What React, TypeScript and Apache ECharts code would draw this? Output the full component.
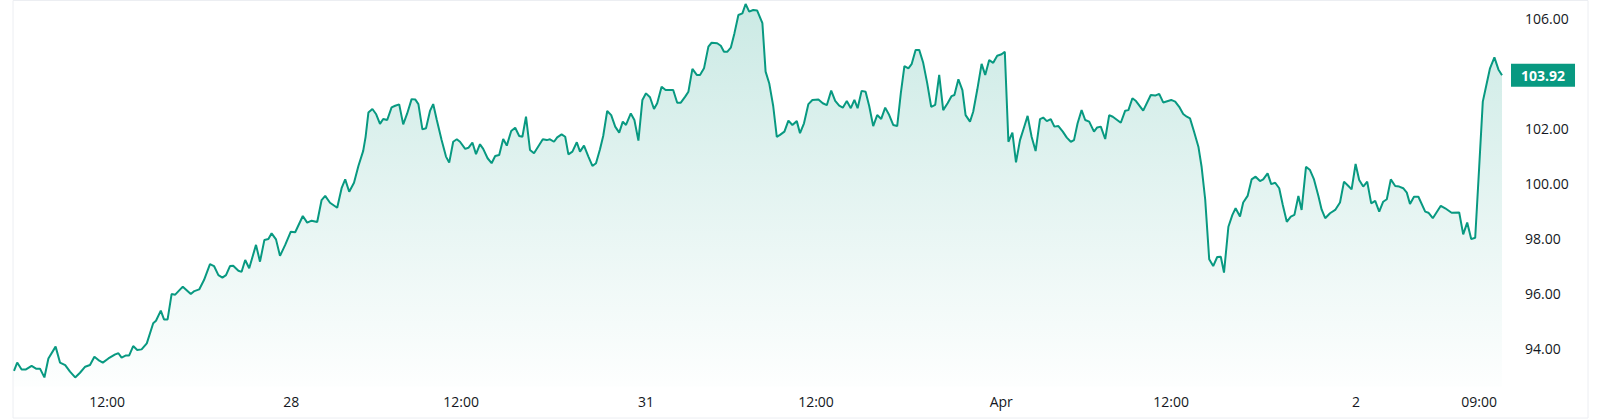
import { useEffect, useRef } from 'react';
import * as echarts from 'echarts';

// bar position (one bar ~ 4px of the time scale) and close price
const positions = [
  0, 0.8, 1.9, 3, 4.4, 5.5, 6.5, 7.6, 8.6, 10.4,
  11.5, 12.8, 14, 15.3, 16.5, 17.8, 19, 20.1, 21.1, 22.2,
  23.6, 25.3, 26.1, 26.9, 28, 28.8, 29.8, 30.8, 31.9, 33.2,
  34.8, 35.5, 36.7, 37.5, 38.4, 39.4, 40.3, 42.2, 44.2, 45.1,
  46.3, 47.5, 49, 50, 51.1, 52.1, 53, 54, 54.8, 56.1,
  56.9, 57.8, 58.8, 60.5, 61.5, 62.6, 63.6, 64.4, 65.5, 66.5,
  67.8, 69.2, 70.3, 72.2, 73.3, 74.4, 75.8, 76.9, 77.8, 79,
  80.8, 81.9, 82.8, 83.8, 85, 86.1, 87.3, 87.9, 88.6, 89.6,
  90.5, 91.5, 92.3, 93.3, 94.4, 95.3, 96.3, 97.3, 98.3, 99.4,
  100.3, 101.1, 102.1, 103, 104, 104.8, 105.7, 106.9, 108, 108.8,
  109.8, 110.7, 111.5, 112.8, 113.6, 114.6, 115.5, 116.5, 117.3, 118.4,
  119.4, 120.3, 121.3, 122.3, 123.2, 124.3, 125.3, 126.3, 127.1, 128,
  129, 130, 132.2, 133.2, 134, 135, 135.8, 136.9, 137.8, 138.6,
  139.6, 140.7, 141.5, 142.5, 143.6, 144.6, 145.5, 146.5, 147.3, 148.3,
  149.3, 150.3, 151.3, 152.2, 153, 154.2, 155.1, 156.1, 157.1, 158,
  159, 160, 160.8, 161.9, 162.9, 164, 164.8, 165.8, 166.7, 167.8,
  168.6, 169.6, 170.7, 171.5, 172.5, 173.6, 174.4, 175.8, 176.7, 177.5,
  178.3, 179.2, 180.1, 181.1, 182.1, 182.9, 183.8, 184.8, 185.8, 187.1,
  187.9, 188.8, 189.8, 190.7, 191.5, 192.6, 193.6, 194.6, 195.7, 196.5,
  197.5, 198.6, 199.6, 201.1, 202.2, 203.2, 204.3, 205.3, 206.3, 207.2,
  208.2, 209.2, 210.1, 210.9, 211.9, 212.9, 213.8, 214.8, 215.8, 216.8,
  217.8, 218.8, 219.8, 220.8, 221.7, 222.6, 223.6, 224.4, 225.4, 226.3,
  227.3, 228.3, 229.3, 230.3, 231.3, 232.3, 233.4, 234.4, 235.1, 236.1,
  237.1, 237.9, 239, 239.8, 240.8, 241.9, 242.8, 243.8, 244.8, 245.8,
  246.9, 247.7, 248.6, 249.6, 250.5, 251.5, 252.5, 253.4, 254.4, 255.4,
  256.5, 257.3, 258.2, 259.2, 260.1, 261.1, 262.2, 263.2, 264.2, 265,
  265.9, 266.9, 267.8, 268.8, 270, 270.8, 271.7, 272.8, 273.8, 274.7,
  276.7, 277.8, 278.6, 279.6, 280.5, 282.3, 284.2, 285.3, 286.3, 287.3,
  289.3, 290.3, 291.3, 292.3, 293.2, 294, 295, 296.1, 296.9, 297.8,
  298.8, 299.8, 300.8, 301.7, 302.5, 303.6, 304.6, 305.4, 306.5, 307.3,
  308.4, 309.4, 310.4, 311.5, 312.3, 313.4, 314.3, 315.3, 316.3, 317.2,
  318.2, 319.2, 320.1, 321.1, 321.9, 323, 324, 325, 326.1, 326.9,
  327.8, 329, 330.3, 331.5, 332.5, 333.6, 334.4, 335.4, 336.3, 337.3,
  338.3, 339.3, 340.3, 341.3, 342.3, 343.2, 344.2, 345.3, 346.3, 347.3,
  348.2, 349, 350, 351.1, 352.8, 353.6, 354.7, 356.7, 357.8, 359.4,
  361.3, 362.3, 363.3, 364.3, 365.3, 366.3, 367.2, 368, 369, 370.1,
  371.1, 372,
];

const prices = [
  93.17, 93.47, 93.22, 93.22, 93.35, 93.25, 93.25, 92.93, 93.62, 94.05,
  93.47, 93.38, 93.14, 92.93, 93.10, 93.32, 93.38, 93.68, 93.56, 93.47,
  93.62, 93.77, 93.81, 93.65, 93.73, 93.73, 94.07, 93.93, 93.95, 94.17,
  94.90, 94.99, 95.36, 95.04, 95.04, 95.96, 95.94, 96.23, 95.96, 96.07,
  96.13, 96.47, 97.05, 96.98, 96.65, 96.56, 96.65, 96.98, 96.99, 96.81,
  96.77, 97.20, 96.90, 97.75, 97.14, 97.93, 97.96, 98.17, 97.95, 97.35,
  97.75, 98.23, 98.21, 98.80, 98.56, 98.63, 98.58, 99.38, 99.53, 99.28,
  99.10, 99.81, 100.13, 99.68, 100.01, 100.62, 101.17, 101.68, 102.56, 102.69,
  102.51, 102.15, 102.33, 102.29, 102.75, 102.81, 102.86, 102.13, 102.53, 103.05,
  103.04, 102.87, 101.95, 101.99, 102.62, 102.87, 102.29, 101.56, 100.96, 100.74,
  101.50, 101.59, 101.50, 101.24, 101.28, 101.47, 101.05, 101.41, 101.24, 100.90,
  100.72, 100.98, 101.02, 101.60, 101.36, 101.89, 102.01, 101.71, 101.68, 102.41,
  101.20, 101.08, 101.59, 101.56, 101.59, 101.50, 101.66, 101.77, 101.68, 101.04,
  101.14, 101.48, 101.14, 101.36, 100.96, 100.62, 100.72, 101.23, 101.71, 102.62,
  102.47, 102.05, 101.83, 102.23, 102.11, 102.53, 102.29, 101.54, 103.02, 103.26,
  103.12, 102.69, 102.90, 103.50, 103.38, 103.38, 103.38, 102.92, 102.92, 103.14,
  103.32, 104.15, 103.93, 103.93, 104.17, 104.96, 105.10, 105.08, 104.99, 104.77,
  104.77, 104.92, 105.44, 106.11, 106.17, 106.51, 106.23, 106.29, 106.27, 105.81,
  104.05, 103.63, 102.80, 101.68, 101.75, 101.87, 102.27, 102.11, 102.25, 101.81,
  102.17, 102.87, 103.02, 103.04, 102.90, 102.83, 103.36, 102.99, 102.81, 102.74,
  102.98, 102.72, 103.02, 102.72, 103.35, 103.32, 102.80, 102.07, 102.47, 102.33,
  102.74, 102.47, 102.11, 102.07, 103.26, 104.25, 104.17, 104.32, 104.84, 104.84,
  104.37, 103.63, 102.77, 102.84, 103.93, 102.65, 102.90, 103.16, 103.20, 103.77,
  103.38, 102.47, 102.23, 102.59, 103.38, 104.33, 103.93, 104.47, 104.37, 104.63,
  104.68, 104.77, 101.50, 101.83, 100.75, 101.56, 102.02, 102.44, 101.68, 101.16,
  102.32, 102.38, 102.25, 102.32, 102.05, 102.07, 101.87, 101.65, 101.50, 101.56,
  102.17, 102.65, 102.29, 102.23, 101.87, 102.02, 102.05, 101.60, 102.47, 102.41,
  102.19, 102.63, 102.65, 103.08, 102.98, 102.63, 103.20, 103.18, 103.24, 102.93,
  103.02, 102.96, 102.77, 102.51, 102.41, 102.35, 101.87, 101.32, 100.59, 99.40,
  97.23, 96.98, 97.31, 97.32, 96.74, 98.41, 98.84, 99.08, 98.78, 99.29,
  99.53, 100.13, 100.23, 100.07, 100.13, 100.35, 99.96, 100.01, 99.81, 99.20,
  98.59, 98.78, 98.84, 99.53, 99.02, 100.59, 100.47, 100.13, 99.53, 99.04,
  98.72, 98.90, 99.02, 99.29, 100.05, 99.89, 99.77, 100.69, 100.11, 99.87,
  100.05, 99.26, 99.35, 98.96, 99.32, 99.41, 100.13, 99.89, 99.87, 99.81,
  99.65, 99.24, 99.50, 99.50, 98.96, 98.92, 98.72, 99.17, 99.08, 98.92,
  98.93, 98.13, 98.56, 97.96, 98.01, 100.59, 102.96, 103.50, 104.17, 104.57,
  104.13, 103.92,
];

// time scale labels and where they sit on the bar scale
const timeTickPositions = [23.3, 69.3, 111.8, 158, 200.5, 246.8, 289.3, 335.5, 366.3];
const timeTickLabels = ['12:00', '28', '12:00', '31', '12:00', 'Apr', '12:00', '2', '09:00'];

const priceTicks = [94, 96, 98, 100, 102, 106];

const GREEN = '#089981';
const FONT = '"Open Sans", "Noto Sans", sans-serif';

export default function App() {
  const chartRef = useRef<HTMLDivElement>(null);

  useEffect(() => {
    if (!chartRef.current) return;
    document.body.style.margin = '0';

    const chart = echarts.init(chartRef.current, null, { renderer: 'svg' });
    const lastPrice = prices[prices.length - 1];

    chart.setOption({
      animation: false,
      backgroundColor: '#ffffff',
      textStyle: { fontFamily: FONT },
      grid: { left: 14, right: 98, top: 1.5, bottom: 33.5 },
      graphic: [
        {
          type: 'rect',
          shape: { x: 13, y: 0.5, width: 1575, height: 417.5 },
          style: { fill: 'none', stroke: '#eceef2', lineWidth: 1 },
          silent: true,
        },
      ],
      xAxis: {
        type: 'value',
        min: 0,
        max: positions[positions.length - 1],
        axisLine: { show: false },
        axisTick: { show: false },
        splitLine: { show: false },
        axisLabel: {
          customValues: timeTickPositions,
          margin: 8,
          color: '#131722',
          fontSize: 14,
          fontFamily: FONT,
          formatter: (v: number) => {
            const i = timeTickPositions.findIndex(p => Math.abs(p - v) < 0.01);
            return i >= 0 ? timeTickLabels[i] : '';
          },
        },
      },
      yAxis: {
        type: 'value',
        position: 'right',
        min: 92.6,
        max: 106.6,
        axisLine: { show: false },
        axisTick: { show: false },
        splitLine: { show: false },
        axisLabel: {
          customValues: priceTicks,
          margin: 23,
          color: '#131722',
          fontSize: 14,
          fontFamily: FONT,
          formatter: (v: number) => v.toFixed(2),
        },
      },
      series: [
        {
          type: 'line',
          data: positions.map((p, i) => [p, prices[i]]),
          showSymbol: false,
          symbol: 'none',
          lineStyle: { color: GREEN, width: 2 },
          areaStyle: {
            origin: 'start',
            color: new echarts.graphic.LinearGradient(0, 0, 0, 1, [
              { offset: 0, color: 'rgba(8, 153, 129, 0.30)' },
              { offset: 1, color: 'rgba(8, 153, 129, 0.01)' },
            ]),
          },
          markLine: {
            silent: true,
            symbol: 'none',
            lineStyle: { color: 'rgba(0, 0, 0, 0)', width: 0, type: 'solid' },
            label: {
              show: true,
              position: 'end',
              distance: 9,
              formatter: lastPrice.toFixed(2),
              color: '#ffffff',
              backgroundColor: GREEN,
              fontSize: 14,
              fontWeight: 'bold',
              fontFamily: FONT,
              lineHeight: 15,
              padding: [4, 10, 4, 10],
            },
            data: [{ yAxis: lastPrice }],
          },
        },
      ],
    });

    return () => {
      chart.dispose();
    };
  }, []);

  return <div ref={chartRef} style={{ width: '1600px', height: '420px' }} />;
}
